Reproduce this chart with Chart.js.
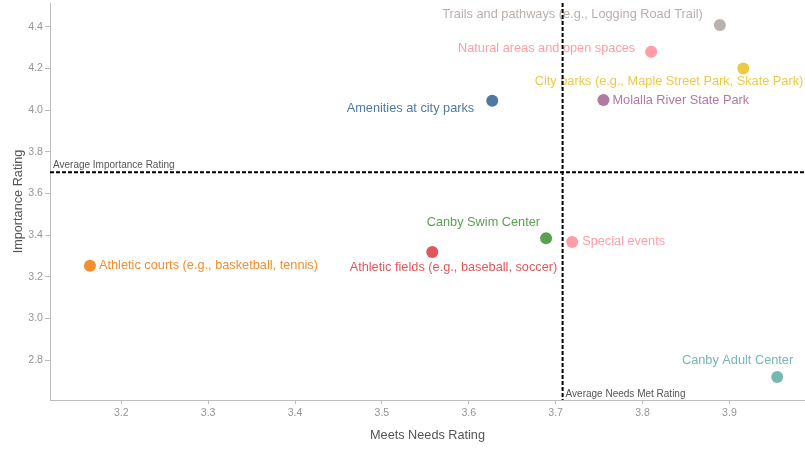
<!DOCTYPE html>
<html>
<head>
<meta charset="utf-8">
<title>Importance vs. Meets Needs</title>
<script src="https://cdn.jsdelivr.net/npm/chart.js@4/dist/chart.umd.min.js"></script>
<style>
  html, body { margin: 0; padding: 0; background: #fff; }
  #wrap { width: 805px; height: 450px; position: relative; }
</style>
</head>
<body>
<div id="wrap"><canvas id="ratingChart"></canvas></div>
<script>
// Facilities and their survey scores
const facilities = [
    'Trails and pathways (e.g., Logging Road Trail)',
    'Natural areas and open spaces',
    'City parks (e.g., Maple Street Park, Skate Park)',
    'Molalla River State Park',
    'Amenities at city parks',
    'Canby Swim Center',
    'Special events',
    'Athletic fields (e.g., baseball, soccer)',
    'Athletic courts (e.g., basketball, tennis)',
    'Canby Adult Center'
];
const meetsNeeds = [3.889, 3.810, 3.916, 3.755, 3.627, 3.689, 3.719, 3.558, 3.164, 3.955];
const importance = [4.408, 4.280, 4.199, 4.048, 4.045, 3.385, 3.367, 3.319, 3.252, 2.718];

const avgNeedsMet = 3.708;
const avgImportance = 3.701;

const xTicks = [3.2, 3.3, 3.4, 3.5, 3.6, 3.7, 3.8, 3.9];
const yTicks = [2.8, 3.0, 3.2, 3.4, 3.6, 3.8, 4.0, 4.2, 4.4];

// Tableau-style colours, one per facility
const pointColors = [
    '#bab0ac', '#ff9da7', '#edc948', '#b07aa1', '#4e79a7',
    '#59a14f', '#ff9da7', '#e15759', '#f28e2b', '#76b7b2'
];

// where each label sits relative to its dot: [align, dx, dy]
const labelPlacement = [
    ['right', -17, -11],
    ['right', -16, -3],
    ['right', 60, 13],
    ['left', 9, 0],
    ['right', -18, 8],
    ['right', -6, -16],
    ['left', 10, 0],
    ['right', 125, 16],
    ['left', 9, 0],
    ['right', 16, -17]
];

const FONT = '"Liberation Sans", Arial, Helvetica, sans-serif';

const pointLabels = {
    id: 'pointLabels',
    afterDatasetsDraw(chart) {
        const ctx = chart.ctx;
        const meta = chart.getDatasetMeta(0);
        ctx.save();
        ctx.font = `12.75px ${FONT}`;
        ctx.textBaseline = 'middle';
        meta.data.forEach((pt, i) => {
            const [align, dx, dy] = labelPlacement[i];
            ctx.textAlign = align;
            ctx.fillStyle = pointColors[i];
            ctx.fillText(facilities[i], pt.x + dx, pt.y + dy);
        });
        ctx.restore();
    }
};

// dashed average lines with their captions
const averageLines = {
    id: 'averageLines',
    afterDraw(chart) {
        const ctx = chart.ctx;
        const area = chart.chartArea;
        const xs = chart.scales.x;
        const ys = chart.scales.y;
        const vx = xs.getPixelForValue(avgNeedsMet);
        const hy = ys.getPixelForValue(avgImportance);

        ctx.save();
        ctx.strokeStyle = '#000';
        ctx.lineWidth = 2;
        ctx.setLineDash([4, 2]);
        ctx.beginPath();
        ctx.moveTo(area.left, hy);
        ctx.lineTo(area.right, hy);
        ctx.moveTo(vx, area.top);
        ctx.lineTo(vx, area.bottom);
        ctx.stroke();

        ctx.setLineDash([]);
        ctx.fillStyle = '#555';
        ctx.font = `10px ${FONT}`;
        ctx.textAlign = 'left';
        ctx.textBaseline = 'alphabetic';
        ctx.fillText('Average Importance Rating', area.left + 3, hy - 4);
        ctx.fillText('Average Needs Met Rating', vx + 3, area.bottom - 3);
        ctx.restore();
    }
};

const ctx = document.getElementById('ratingChart').getContext('2d');

new Chart(ctx, {
    type: 'scatter',
    data: {
        datasets: [{
            data: meetsNeeds.map((x, i) => ({ x: x, y: importance[i] })),
            pointBackgroundColor: pointColors,
            pointBorderWidth: 0,
            pointRadius: 6,
            pointHoverRadius: 6
        }]
    },
    options: {
        responsive: true,
        maintainAspectRatio: false,
        devicePixelRatio: 1,
        animation: false,
        layout: {
            autoPadding: false,
            padding: { top: 3, right: 0, bottom: 0, left: 0 }
        },
        plugins: {
            legend: { display: false },
            tooltip: { enabled: false }
        },
        scales: {
            x: {
                type: 'linear',
                min: 3.118,
                max: 3.987,
                afterBuildTicks: function(scale) {
                    scale.ticks = xTicks.map(v => ({ value: v }));
                },
                afterFit: function(scale) {
                    scale.height = 50;
                    scale.paddingLeft = 0;
                    scale.paddingRight = 0;
                },
                border: { display: true, color: '#bdbdbd', width: 1 },
                grid: {
                    drawOnChartArea: false,
                    drawTicks: true,
                    tickLength: 4,
                    color: '#bdbdbd'
                },
                ticks: {
                    color: '#959595',
                    padding: 3,
                    font: { family: FONT, size: 10.6 },
                    callback: function(value) {
                        return value.toFixed(1);
                    }
                },
                title: {
                    display: true,
                    text: 'Meets Needs Rating',
                    color: '#555',
                    font: { family: FONT, size: 12.7 },
                    padding: { top: 0, bottom: 7 }
                }
            },
            y: {
                type: 'linear',
                min: 2.608,
                max: 4.514,
                afterBuildTicks: function(scale) {
                    scale.ticks = yTicks.map(v => ({ value: v }));
                },
                afterFit: function(scale) {
                    scale.width = 50;
                    scale.paddingTop = 0;
                    scale.paddingBottom = 0;
                },
                border: { display: true, color: '#bdbdbd', width: 1 },
                grid: {
                    drawOnChartArea: false,
                    drawTicks: true,
                    tickLength: 5,
                    color: '#bdbdbd'
                },
                ticks: {
                    color: '#959595',
                    padding: 2,
                    font: { family: FONT, size: 10.6 },
                    callback: function(value) {
                        return value.toFixed(1);
                    }
                },
                title: {
                    display: true,
                    text: 'Importance Rating',
                    color: '#555',
                    font: { family: FONT, size: 12.7 },
                    padding: { top: 11, bottom: 0 }
                }
            }
        }
    },
    plugins: [pointLabels, averageLines]
});
</script>
</body>
</html>
